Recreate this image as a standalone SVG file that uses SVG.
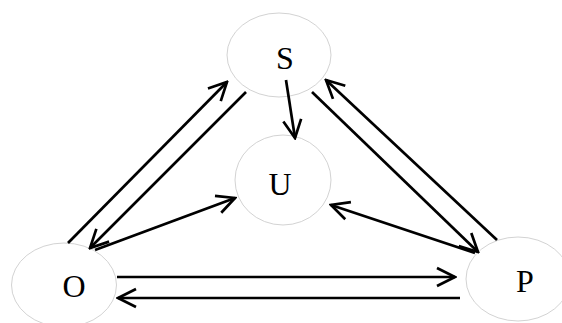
<svg xmlns="http://www.w3.org/2000/svg" width="562" height="323" viewBox="0 0 562 323">
<style>
.node{fill:#fff;stroke:#d3d3d3;stroke-width:1}
.lbl{font-family:"Liberation Serif","Times New Roman",serif;font-size:32px;fill:#000;text-anchor:middle}
.edge{stroke:#000;stroke-width:2.7;fill:none;marker-end:url(#arr)}
</style>
<defs>
<marker id="arr" markerUnits="userSpaceOnUse" viewBox="-20 -11 22 22" refX="0" refY="0" markerWidth="22" markerHeight="22" orient="auto">
<path d="M-18,-9 L0,0 L-18,9" fill="none" stroke="#000" stroke-width="2.7"/>
</marker>
</defs>
<rect width="562" height="323" fill="#fff"/>
<g id="S"><ellipse class="node" cx="279" cy="55" rx="52" ry="42"/><text class="lbl" x="285" y="69">S</text></g>
<g id="U"><ellipse class="node" cx="283" cy="180" rx="48" ry="45"/><text class="lbl" x="280" y="195">U</text></g>
<g id="O"><ellipse class="node" cx="64" cy="285" rx="52.5" ry="42"/><text class="lbl" x="74" y="297">O</text></g>
<g id="P"><ellipse class="node" cx="518" cy="279" rx="52" ry="42"/><text class="lbl" x="525" y="292">P</text></g>
<g id="connectors">
<line class="edge" x1="68" y1="243" x2="227" y2="82"/>
<line class="edge" x1="246" y1="92" x2="90" y2="248"/>
<line class="edge" x1="95" y1="250" x2="235" y2="198"/>
<line class="edge" x1="286" y1="80" x2="295" y2="138"/>
<line class="edge" x1="312" y1="92" x2="478" y2="252"/>
<line class="edge" x1="497" y1="240" x2="326" y2="80"/>
<line class="edge" x1="475" y1="253" x2="331" y2="205"/>
<line class="edge" x1="117" y1="277" x2="455" y2="277"/>
<line class="edge" x1="460" y1="298" x2="118" y2="298"/>
</g>
</svg>
